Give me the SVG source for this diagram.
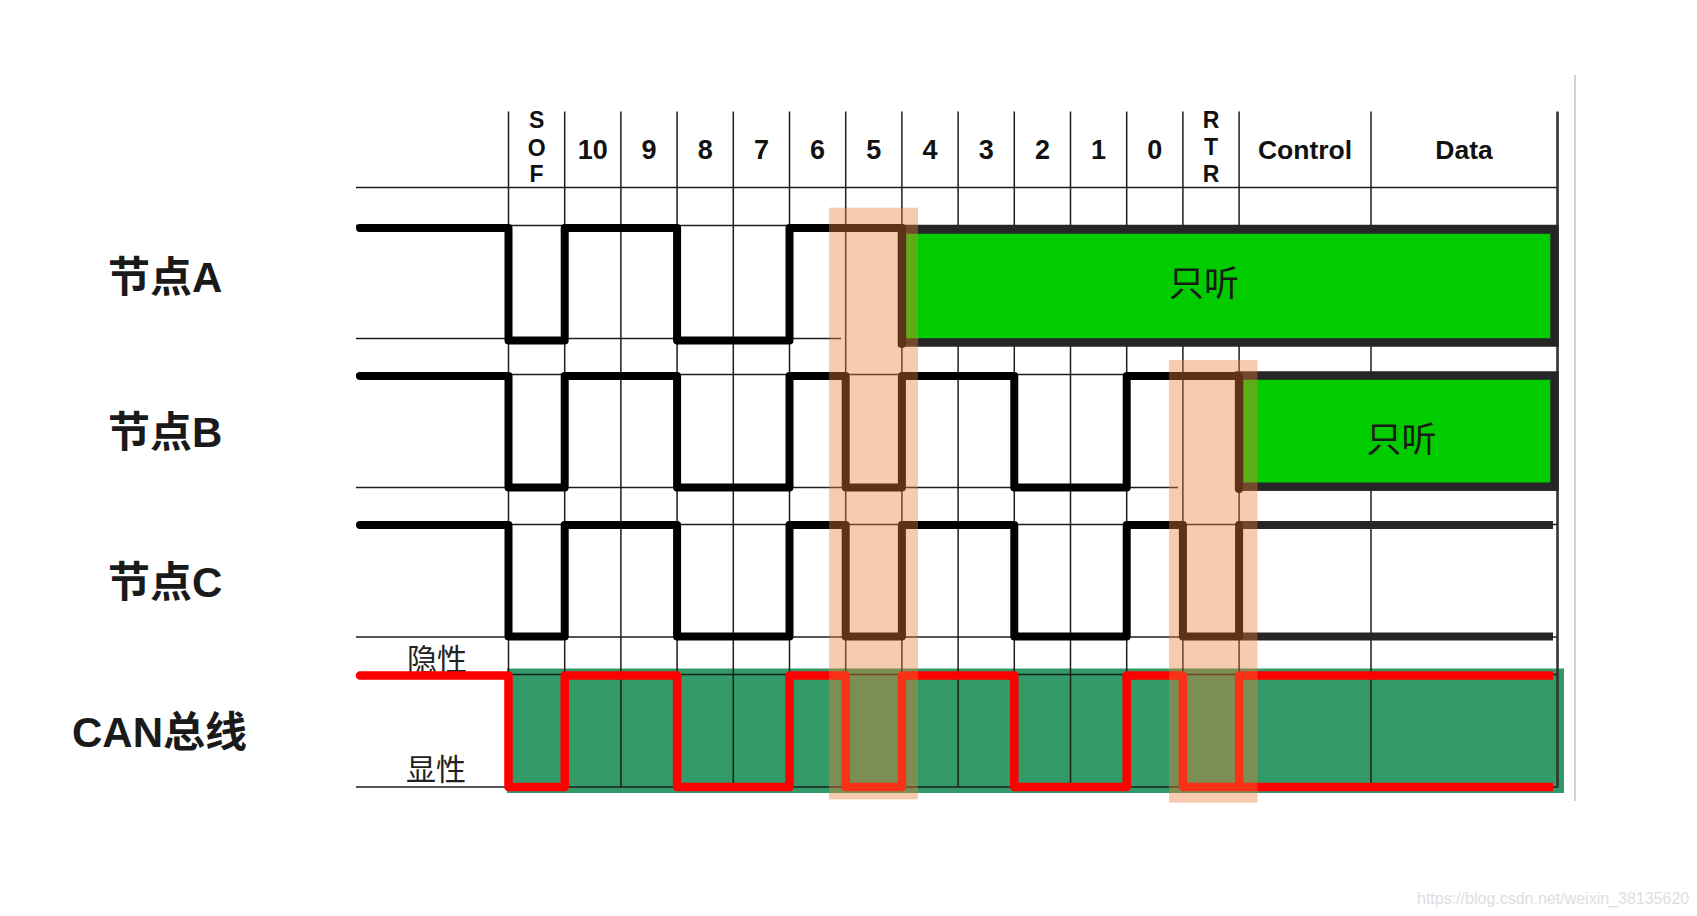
<svg xmlns="http://www.w3.org/2000/svg" width="1697" height="916" viewBox="0 0 1697 916">
<style>
.grid{stroke:#1e1e1e;stroke-width:1.5;fill:none}
.sig{stroke:#000;stroke-width:8;fill:none;stroke-linejoin:round}
.data{stroke:#262626;stroke-width:8;fill:none}
.bus{stroke:#ff0000;stroke-width:8.5;fill:none;stroke-linejoin:round}
.box{fill:#00cc00;stroke:#262626;stroke-width:8.5}
.hl{fill:rgb(235,125,55);fill-opacity:0.4}
.hd{font-family:"Liberation Sans",Arial,sans-serif;font-weight:bold;fill:#111;text-anchor:middle}
.lbl{font-family:"Liberation Sans","Noto Sans CJK SC",sans-serif;font-weight:bold;font-size:42px;fill:#1a1a1a}
.lvl{font-family:"Noto Sans CJK SC",sans-serif;font-size:30px;fill:#222}
.lst{font-family:"Noto Sans CJK SC",sans-serif;font-size:35px;fill:#1a1a1a;text-anchor:middle}
</style>
<rect width="1697" height="916" fill="#fff"/>
<g id="bus-background">
<rect x="507" y="668.5" width="1057" height="124.5" fill="#339966"/>
</g>
<g id="grid">
<path class="grid" d="M356,187.5H1558 M356,225.5H1558 M356,338.5H841 M356,374.5H1558 M356,487.5H1178 M356,524.5H1558 M356,637H1558 M356,674.5H1558 M356,787H1558"/>
<path class="grid" d="M508.5,111.5V787 M564.7,111.5V787 M620.9,111.5V787 M677.1,111.5V787 M733.3,111.5V787 M789.5,111.5V787 M845.7,111.5V787 M901.9,111.5V787 M958.1,111.5V787 M1014.3,111.5V787 M1070.5,111.5V787 M1126.7,111.5V787 M1182.9,111.5V787 M1239.1,111.5V787 M1371,111.5V787"/>
<path d="M1557.5,111.5V788" stroke="#333" stroke-width="2.6" fill="none"/>
<path d="M1575,75V801" stroke="#d2d2d2" stroke-width="2" fill="none"/>
</g>
<g id="header">
<text class="hd" font-size="23" x="536.6" y="128.3">S</text>
<text class="hd" font-size="23" x="536.6" y="155.5">O</text>
<text class="hd" font-size="23" x="536.6" y="181.7">F</text>
<text class="hd" font-size="27" x="592.8" y="159.3">10</text>
<text class="hd" font-size="27" x="649" y="159.3">9</text>
<text class="hd" font-size="27" x="705.2" y="159.3">8</text>
<text class="hd" font-size="27" x="761.4" y="159.3">7</text>
<text class="hd" font-size="27" x="817.6" y="159.3">6</text>
<text class="hd" font-size="27" x="873.8" y="159.3">5</text>
<text class="hd" font-size="27" x="930" y="159.3">4</text>
<text class="hd" font-size="27" x="986.2" y="159.3">3</text>
<text class="hd" font-size="27" x="1042.4" y="159.3">2</text>
<text class="hd" font-size="27" x="1098.6" y="159.3">1</text>
<text class="hd" font-size="27" x="1154.8" y="159.3">0</text>
<text class="hd" font-size="23" x="1211" y="128.3">R</text>
<text class="hd" font-size="23" x="1211" y="155">T</text>
<text class="hd" font-size="23" x="1211" y="181.7">R</text>
<text class="hd" font-size="26.5" x="1305" y="159.3">Control</text>
<text class="hd" font-size="26.5" x="1464" y="159.3">Data</text>
</g>
<g id="node-A">
<text class="lbl" x="108" y="292">节点A</text>
<rect class="box" x="902" y="229.5" width="652.5" height="113"/>
<text class="lst" x="1204" y="295.8">只听</text>
<path class="sig" stroke-linecap="round" d="M360,228H508.5V340.5H564.7V228H677.1V340.5H789.5V228H901.9V344"/>
</g>
<g id="node-B">
<text class="lbl" x="108" y="446.5">节点B</text>
<rect class="box" x="1239.1" y="375.5" width="315.4" height="111.2"/>
<text class="lst" x="1401.5" y="451.5">只听</text>
<path class="sig" stroke-linecap="round" d="M360,376H508.5V487.5H564.7V376H677.1V487.5H789.5V376H845.7V487.5H901.9V376H1014.3V487.5H1126.7V376H1239.1V489"/>
</g>
<g id="node-C">
<text class="lbl" x="108" y="597">节点C</text>
<path class="data" d="M1239.1,525H1553 M1239.1,636.5H1553"/>
<path class="sig" stroke-linecap="round" d="M360,525H508.5V636.5H564.7V525H677.1V636.5H789.5V525H845.7V636.5H901.9V525H1014.3V636.5H1126.7V525H1182.9V636.5H1239.1V525"/>
</g>
<g id="can-bus">
<text class="lbl" x="72" y="746.5">CAN总线</text>
<text class="lvl" x="407" y="669.5">隐性</text>
<text class="lvl" x="406" y="779.5">显性</text>
<path class="bus" stroke-linecap="round" d="M360,675.5H508.5V787H564.7V675.5H677.1V787H789.5V675.5H845.7V787H901.9V675.5H1014.3V787H1126.7V675.5H1182.9V787H1239.1V675.5"/>
<path class="bus" d="M1239.1,675.5H1553 M1239.1,787H1553"/>
</g>
<g id="highlights">
<rect class="hl" x="829" y="207.7" width="89" height="591.6"/>
<rect class="hl" x="1169" y="360" width="88.5" height="442.7"/>
</g>
<text x="1417" y="904" font-family="Liberation Sans,Arial,sans-serif" font-size="16" fill="#dedede">https://blog.csdn.net/weixin_38135620</text>
</svg>
